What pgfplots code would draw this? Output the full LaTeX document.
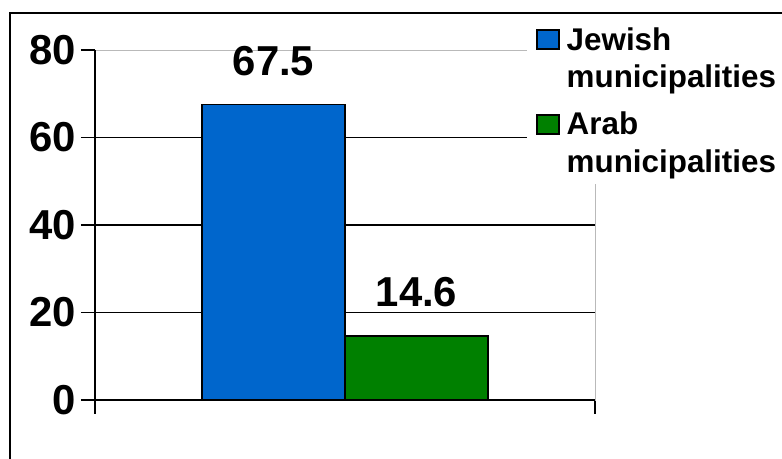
\documentclass[border=0pt]{standalone}
\usepackage{pgfplots}
\pgfplotsset{compat=1.18}
\usepackage{fontspec}
\setmainfont{Liberation Sans}
\definecolor{barblue}{HTML}{0066CC}
\definecolor{bargreen}{HTML}{008000}
\begin{document}
\begin{tikzpicture}[x=1bp,y=1bp]
\useasboundingbox (0,0) rectangle (782,459);
\draw[line width=2.5bp] (10,-10) -- (10,446) -- (800,446);
\begin{axis}[
  at={(95bp,59bp)}, anchor=south west,
  scale only axis, width=500bp, height=350bp,
  xmin=-1, xmax=1, ymin=0, ymax=80,
  ybar=0pt, bar width=143bp,
  clip=false,
  /pgf/number format/assume math mode=true,
  /pgf/number format/fixed, /pgf/number format/precision=1,
  ytick={0,20,40,60,80},
  xtick={-1,1}, xticklabels={,},
  tick pos=left,
  tick align=outside, major tick length=14bp,
  tick style={black, line width=1.6bp},
  axis line style={draw=gray!55, line width=0.8bp},
  extra y ticks={20,40,60}, extra y tick labels={},
  extra y tick style={grid=major, major grid style={black, line width=1.6bp}, major tick length=0pt},
  yticklabel style={font=\fontsize{42}{42}\selectfont\bfseries, inner sep=0pt, xshift=-5bp},
  nodes near coords,
  nodes near coords style={font=\fontsize{42}{42}\selectfont\bfseries, inner sep=0pt, anchor=south, yshift=28bp},
  legend style={at={(527bp-95bp,435.6bp-59bp)}, anchor=north west, draw=none, fill=white,
    inner xsep=9bp, inner ysep=0pt, column sep=7bp, row sep=9bp,
    font=\fontsize{31.5}{38}\selectfont\bfseries,
    cells={anchor=base west}, nodes={inner sep=0pt, text depth=}},
  legend image code/.code={\draw[#1, draw=black, line width=1.5bp] (0bp,1bp) rectangle (22bp,20bp);},
]
\addplot[fill=barblue, draw=black, line width=1.5bp] coordinates {(0,67.5)};
\addplot[fill=bargreen, draw=black, line width=1.5bp] coordinates {(0,14.6)};
\legend{{\begin{tabular}[t]{@{}l@{}}Jewish\\municipalities\end{tabular}},{\begin{tabular}[t]{@{}l@{}}Arab\\municipalities\end{tabular}}}
\draw[black, line width=1.6bp] (rel axis cs:0,1) -- (rel axis cs:0,0) -- (rel axis cs:1,0);
\end{axis}
\end{tikzpicture}
\end{document}
